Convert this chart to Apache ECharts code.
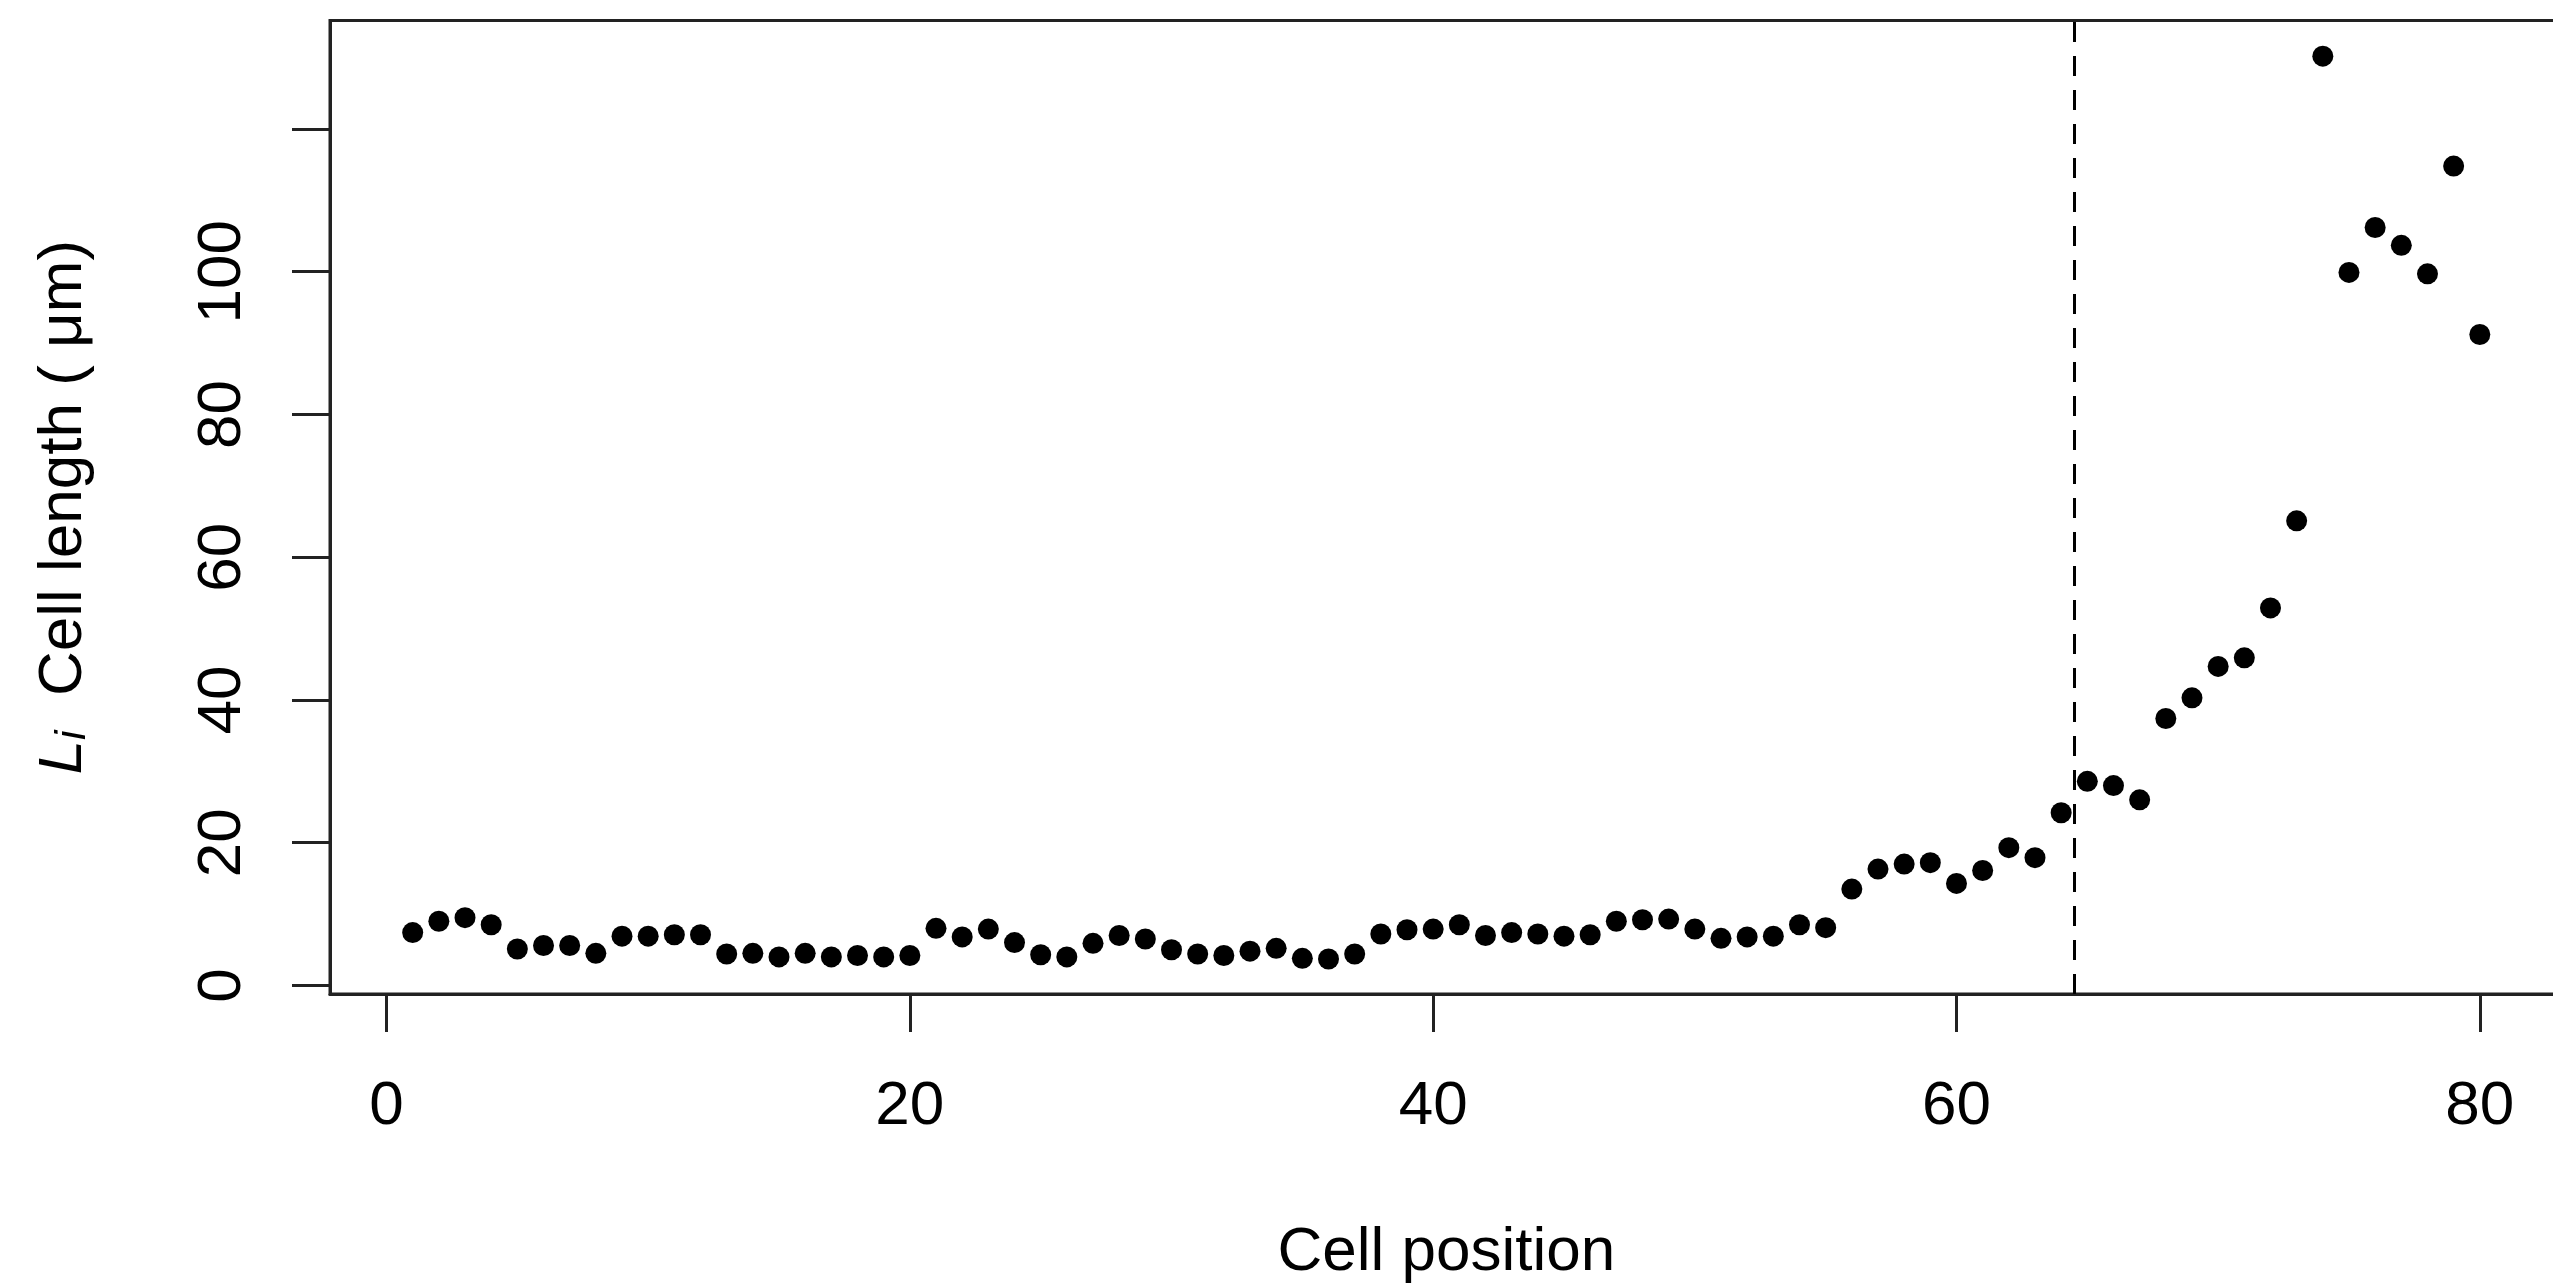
<!DOCTYPE html>
<html><head><meta charset="utf-8">
<script src="https://cdn.jsdelivr.net/npm/echarts@6/dist/echarts.min.js"></script>
<style>html,body{margin:0;padding:0;background:#fff}#c{width:2553px;height:1288px}</style>
</head><body><div id="c"></div>
<script>
const cellPositions = [1,2,3,4,5,6,7,8,9,10,11,12,13,14,15,16,17,18,19,20,
  21,22,23,24,25,26,27,28,29,30,31,32,33,34,35,36,37,38,39,40,
  41,42,43,44,45,46,47,48,49,50,51,52,53,54,55,56,57,58,59,60,
  61,62,63,64,65,66,67,68,69,70,71,72,73,74,75,76,77,78,79,80];
const cellLength = [7.4,9.0,9.5,8.5,5.1,5.6,5.6,4.5,6.9,6.9,7.1,7.1,4.4,4.5,4.0,4.5,4.0,4.2,4.0,4.2,
  8.0,6.8,7.9,6.0,4.3,4.0,5.9,7.0,6.5,5.0,4.4,4.2,4.8,5.2,3.8,3.7,4.4,7.2,7.8,7.9,
  8.5,7.0,7.4,7.2,6.9,7.1,9.0,9.2,9.3,7.9,6.6,6.8,6.9,8.5,8.1,13.5,16.3,17.0,17.2,14.3,
  16.1,19.3,17.9,24.2,28.6,28.0,26.0,37.4,40.3,44.7,45.9,52.9,65.1,130.2,99.9,106.2,103.7,99.7,114.8,91.2];
const xTicks = [0,20,40,60,80];
const yTicks = [0,20,40,60,80,100,120];
const yTickLabels = [0,20,40,60,80,100];
const boundaryPosition = 64.5;

const FONT = 'Liberation Sans, Arial, sans-serif';
const chart = echarts.init(document.getElementById('c'));
chart.setOption({
  animation: false,
  backgroundColor: '#fff',
  grid: { left: 330, top: 20.5, width: 2232.5, height: 973.5, outerBoundsMode: 'none', containLabel: false,
    show: true, borderColor: '#222', borderWidth: 3, backgroundColor: 'transparent' },
  xAxis: {
    type: 'value', min: -2.16, max: 83.16,
    name: 'Cell position', nameLocation: 'middle', nameGap: 228,
    nameTextStyle: { fontSize: 62, fontFamily: FONT, color: '#000' },
    axisLine: { show: true, onZero: false, lineStyle: { color: '#222', width: 3 } },
    axisTick: { show: true, inside: false, length: 38, customValues: xTicks, lineStyle: { color: '#222', width: 3 } },
    axisLabel: { customValues: xTicks, fontSize: 62, fontFamily: FONT, color: '#000', margin: 82 },
    splitLine: { show: false }
  },
  yAxis: {
    type: 'value', min: -1.2, max: 135.2,
    name: '{L|L}{i|i}{t|  Cell length ( μm)}', nameLocation: 'middle', nameGap: 235, nameRotate: 90,
    nameTextStyle: { fontSize: 62, fontFamily: FONT, color: '#000',
      rich: {
        L: { fontSize: 62, fontStyle: 'italic', fontFamily: FONT, color: '#000', lineHeight: 62 },
        i: { fontSize: 43, fontStyle: 'italic', fontFamily: FONT, color: '#000', verticalAlign: 'bottom', lineHeight: 20 },
        t: { fontSize: 62, fontFamily: FONT, color: '#000', lineHeight: 62 }
      } },
    axisLine: { show: true, onZero: false, lineStyle: { color: '#222', width: 3 } },
    axisTick: { show: true, inside: false, length: 38, customValues: yTicks, lineStyle: { color: '#222', width: 3 } },
    axisLabel: { customValues: yTickLabels, rotate: 90, fontSize: 62, fontFamily: FONT, color: '#000', margin: 76 },
    splitLine: { show: false }
  },
  series: [{
    type: 'scatter',
    data: cellPositions.map((x, k) => [x, cellLength[k]]),
    symbol: 'circle', symbolSize: 21,
    itemStyle: { color: '#000', opacity: 1 },
    markLine: {
      silent: true, symbol: ['none', 'none'],
      label: { show: false },
      lineStyle: { color: '#000', width: 3, type: [20, 14] },
      data: [{ xAxis: boundaryPosition }]
    }
  }]
});
</script></body></html>
